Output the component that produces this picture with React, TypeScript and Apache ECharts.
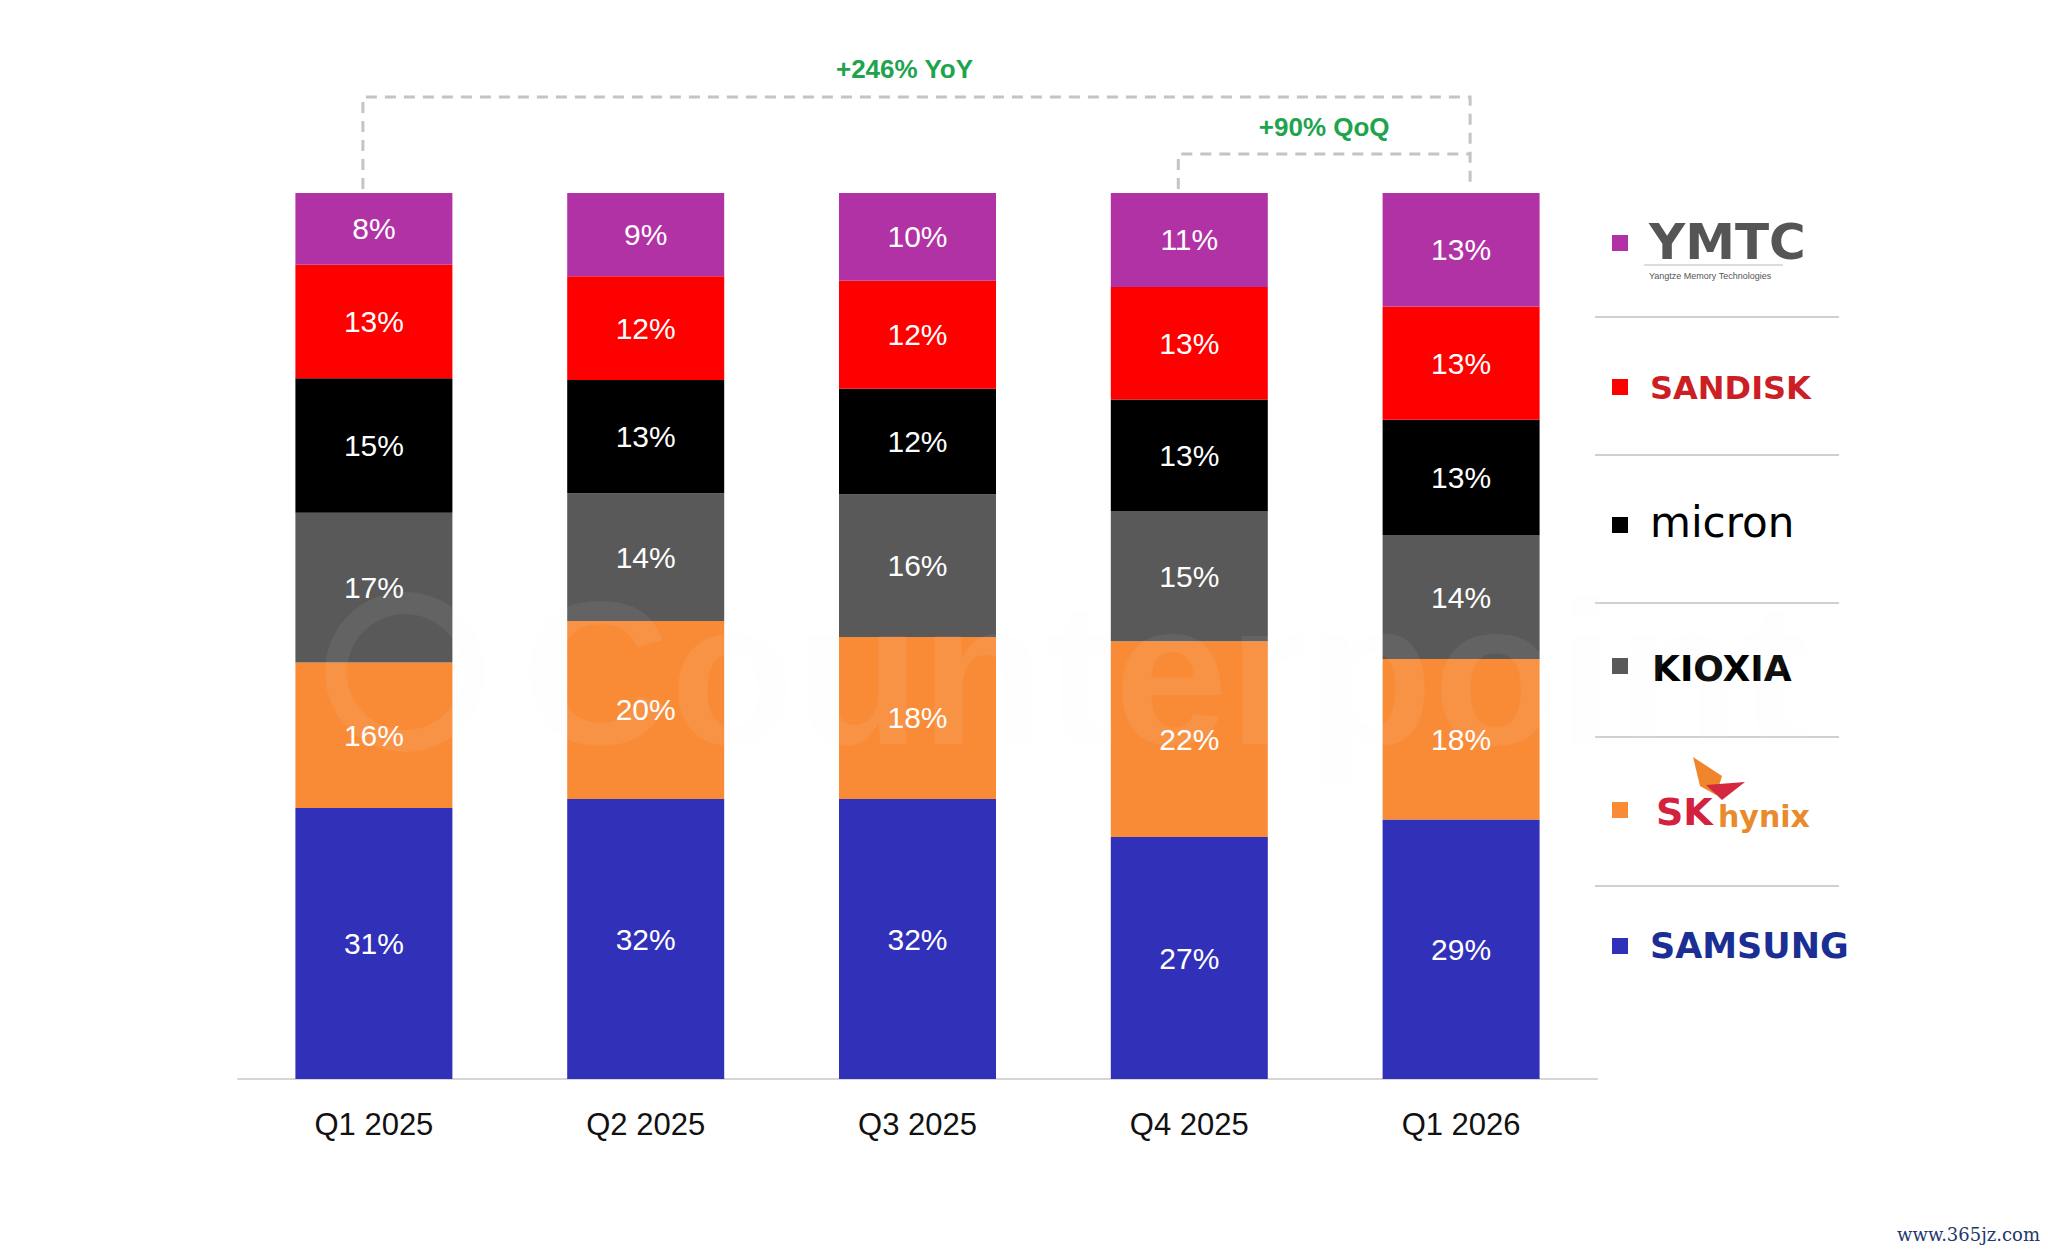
import React, { useEffect, useRef } from "react";
import * as echarts from "echarts";

const categories = ["Q1 2025", "Q2 2025", "Q3 2025", "Q4 2025", "Q1 2026"];
const seriesNames = ["SAMSUNG", "SK hynix", "KIOXIA", "micron", "SANDISK", "YMTC"];
const samsung = [30.6, 31.6, 31.6, 27.3, 29.3];
const skHynix = [16.4, 20.1, 18.3, 22.1, 18.1];
const kioxia = [16.9, 14.4, 16.1, 14.7, 14.0];
const micron = [15.2, 12.8, 11.9, 12.6, 13.0];
const sandisk = [12.8, 11.7, 12.2, 12.7, 12.8];
const ymtc = [8.1, 9.4, 9.9, 10.6, 12.8];
const colors = ["#3130B8", "#F98B37", "#595959", "#000000", "#FF0000", "#B132A5"];
const yoyText = "+246% YoY";
const qoqText = "+90% QoQ";

const FONT = "'Liberation Sans', Arial, sans-serif";
const DV = "'DejaVu Sans', sans-serif";

export default function App() {
  const ref = useRef<HTMLDivElement>(null);
  useEffect(() => {
    document.body.style.margin = "0";
    const chart = echarts.init(ref.current!, null, { renderer: "svg" });
    const values = [samsung, skHynix, kioxia, micron, sandisk, ymtc];
    chart.setOption({
      animation: false,
      backgroundColor: "#ffffff",
      grid: { left: 238, right: 451, top: 193, bottom: 172 },
      xAxis: {
        type: "category",
        data: categories,
        axisLine: { lineStyle: { color: "#d6d6d6", width: 2 } },
        axisTick: { show: false },
        axisLabel: { color: "#111", fontSize: 31, fontFamily: FONT, margin: 30 },
      },
      yAxis: { type: "value", min: 0, max: 100, show: false, splitLine: { show: false } },
      series: values.map((v, i) => ({
        name: seriesNames[i],
        type: "bar",
        stack: "total",
        barWidth: 157,
        data: v,
        itemStyle: { color: colors[i] },
        label: {
          show: true,
          position: "inside",
          color: "#fff",
          fontSize: 30,
          fontFamily: FONT,
          formatter: (p: any) => Math.round(p.value) + "%",
        },
      })),
    });

    const px = (i: number) => chart.convertToPixel({ xAxisIndex: 0 }, i) as number;
    const x1 = px(0) - 11;
    const x4 = px(3) - 11;
    const x5 = px(4) + 9;
    const dashStyle = { stroke: "#c4c4c4", lineWidth: 3, lineDash: [11, 8], fill: null };

    const rowY = [946, 810, 666, 525, 387, 243];
    const sepY = [317, 455, 603, 737, 886];
    const elements: any[] = [];
    // faint watermark
    const wm = "rgba(235,235,235,0.07)";
    elements.push({
      type: "ring",
      shape: { cx: 405, cy: 672, r: 80, r0: 58 },
      style: { fill: wm },
      z: 100,
      silent: true,
    });
    elements.push({
      type: "text",
      x: 522,
      y: 672,
      style: {
        text: "Counterpoint",
        fontSize: 205,
        fontWeight: "bold",
        fontFamily: FONT,
        fill: wm,
        verticalAlign: "middle",
      },
      z: 100,
      silent: true,
    });
    // brackets
    elements.push({
      type: "polyline",
      shape: { points: [[x1, 189], [x1, 97], [x5, 97], [x5, 189]] },
      style: dashStyle,
    });
    elements.push({
      type: "polyline",
      shape: { points: [[x4, 189], [x4, 154], [x5, 154]] },
      style: dashStyle,
    });
    elements.push({
      type: "text",
      x: (x1 + x5) / 2 - 12,
      y: 69,
      style: {
        text: yoyText, fontSize: 26, fontWeight: "bold", fontFamily: FONT,
        fill: "#1EA34E", align: "center", verticalAlign: "middle",
      },
    });
    elements.push({
      type: "text",
      x: (x4 + x5) / 2,
      y: 127,
      style: {
        text: qoqText, fontSize: 26, fontWeight: "bold", fontFamily: FONT,
        fill: "#1EA34E", align: "center", verticalAlign: "middle",
      },
    });
    // legend squares
    rowY.forEach((y, i) => {
      elements.push({
        type: "rect",
        shape: { x: 1612, y: y - 8, width: 16, height: 16 },
        style: { fill: colors[i] },
      });
    });
    sepY.forEach((y) => {
      elements.push({
        type: "line",
        shape: { x1: 1595, y1: y, x2: 1839, y2: y },
        style: { stroke: "#d0d0d0", lineWidth: 2 },
      });
    });
    // logos as text
    elements.push({
      type: "text", x: 1650, y: 946,
      style: { text: "SAMSUNG", fontSize: 35, fontWeight: 900, fontFamily: DV,
        fill: "#1B2E93", verticalAlign: "middle", letterSpacing: 2 } as any,
    });
    elements.push({
      type: "text", x: 1656, y: 812,
      style: { text: "SK", fontSize: 38, fontWeight: "bold", fontFamily: DV,
        fill: "#D4213D", verticalAlign: "middle" },
    });
    elements.push({
      type: "text", x: 1718, y: 816,
      style: { text: "hynix", fontSize: 30, fontWeight: "bold", fontFamily: DV,
        fill: "#E98A2D", verticalAlign: "middle" },
    });
    elements.push({
      type: "polygon",
      shape: { points: [[1693, 757], [1722, 776], [1716, 795], [1700, 786]] },
      style: { fill: "#F0852B" },
    });
    elements.push({
      type: "polygon",
      shape: { points: [[1706, 785], [1745, 782], [1722, 800]] },
      style: { fill: "#D42840" },
    });
    elements.push({
      type: "text", x: 1652, y: 668,
      style: { text: "KIOXIA", fontSize: 36, fontWeight: 900, fontFamily: DV,
        fill: "#000", verticalAlign: "middle" },
    });
    elements.push({
      type: "text", x: 1650, y: 522,
      style: { text: "micron", fontSize: 42, fontWeight: 500, fontFamily: DV,
        fill: "#000", verticalAlign: "middle" },
    });
    elements.push({
      type: "text", x: 1650, y: 388,
      style: { text: "SANDISK", fontSize: 32, fontWeight: "bold", fontFamily: DV,
        fill: "#CC1F25", verticalAlign: "middle", letterSpacing: 2 } as any,
    });
    elements.push({
      type: "text", x: 1649, y: 242,
      style: { text: "YMTC", fontSize: 50, fontWeight: "bold", fontFamily: DV,
        fill: "#555555", verticalAlign: "middle" },
    });
    elements.push({
      type: "line",
      shape: { x1: 1644, y1: 265, x2: 1783, y2: 265 },
      style: { stroke: "#bbbbbb", lineWidth: 1 },
    });
    elements.push({
      type: "text", x: 1649, y: 276,
      style: { text: "Yangtze Memory Technologies", fontSize: 9, fontFamily: FONT,
        fill: "#555", verticalAlign: "middle" },
    });
    elements.push({
      type: "text", x: 2040, y: 1234,
      style: { text: "www.365jz.com", fontSize: 18, fontFamily: "'DejaVu Serif', serif",
        fill: "#23376B", align: "right", verticalAlign: "middle" },
    });
    chart.setOption({ graphic: { elements } });
    return () => chart.dispose();
  }, []);
  return (
    <div
      ref={ref}
      style={{ position: "fixed", left: 0, top: 0, width: 2048, height: 1251, background: "#fff" }}
    />
  );
}
